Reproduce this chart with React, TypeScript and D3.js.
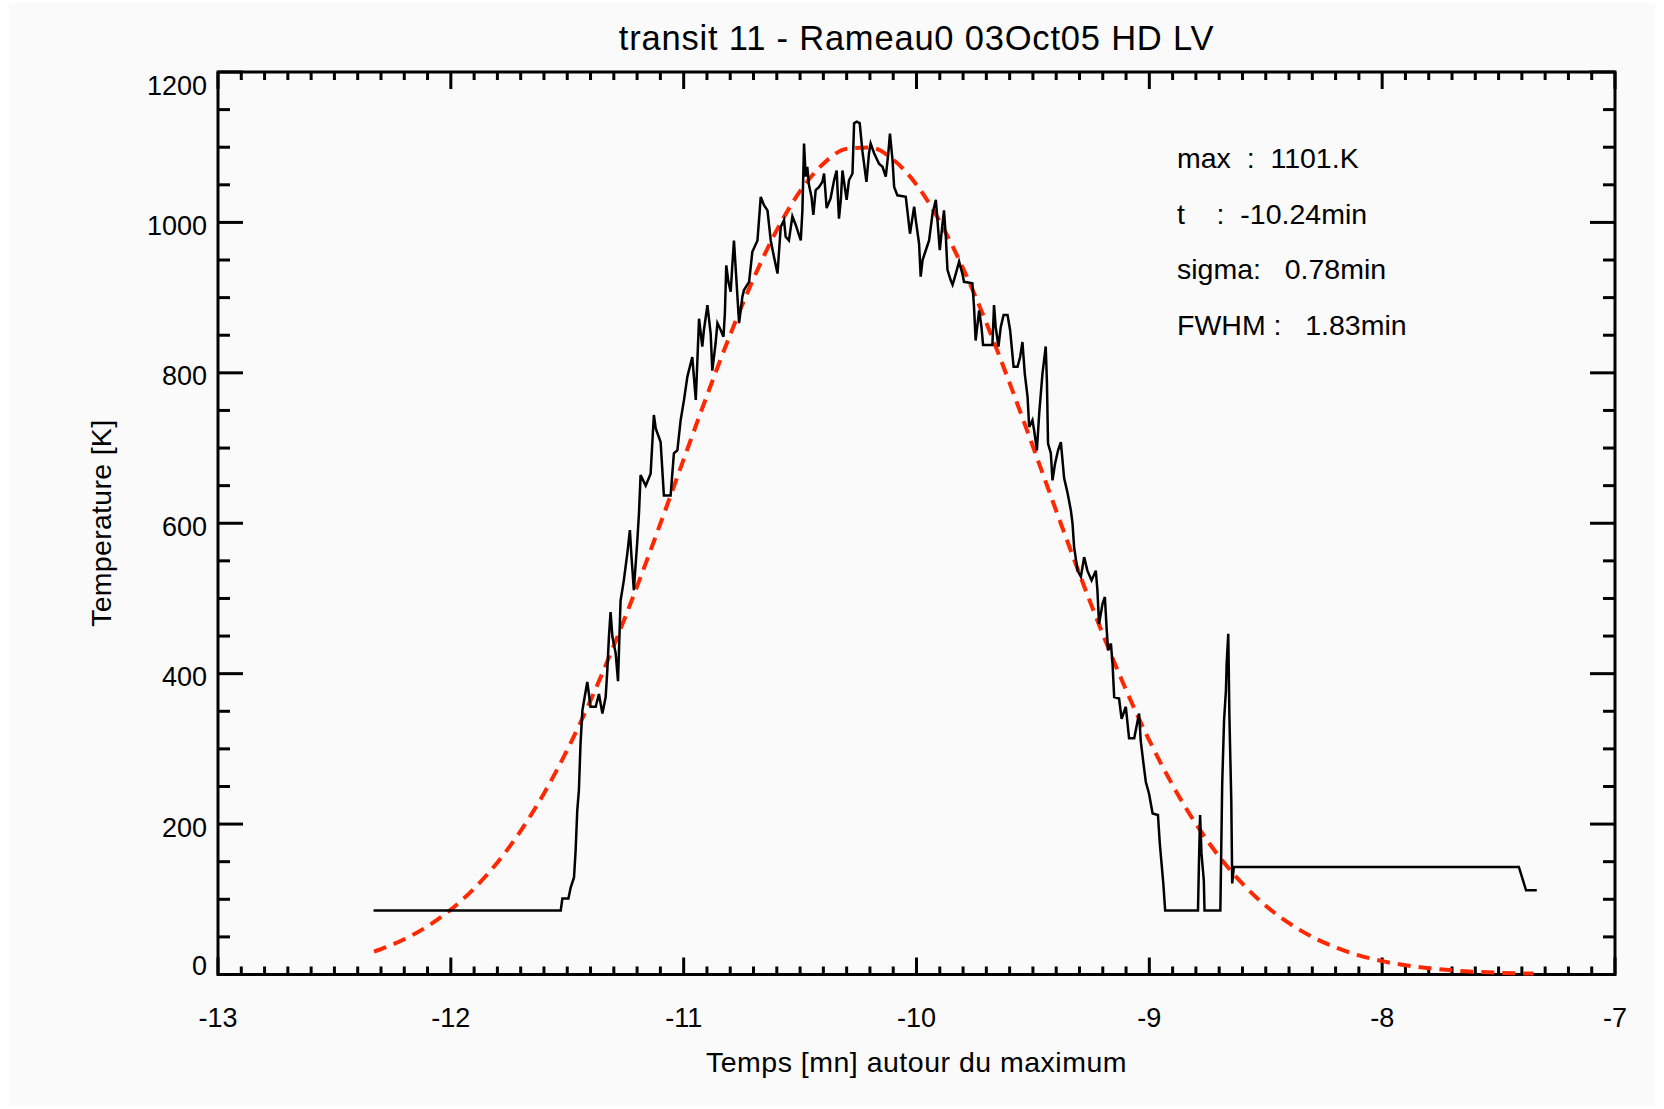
import React from 'react';
import * as d3 from 'd3';

// measured temperature (black) - time in minutes around the maximum
const timeMin = [
  -12.332, -11.528, -11.521, -11.495, -11.485, -11.471, -11.464, -11.457, -11.45, -11.443,
  -11.435, -11.428, -11.414, -11.407, -11.4, -11.378, -11.364, -11.349, -11.335, -11.328,
  -11.321, -11.314, -11.306, -11.292, -11.282, -11.271, -11.257, -11.242, -11.231, -11.225,
  -11.214, -11.199, -11.192, -11.185, -11.163, -11.142, -11.134, -11.128, -11.12, -11.099,
  -11.085, -11.056, -11.042, -11.027, -11.013, -10.999, -10.984, -10.963, -10.948, -10.941,
  -10.934, -10.92, -10.913, -10.898, -10.884, -10.877, -10.863, -10.855, -10.841, -10.829,
  -10.823, -10.817, -10.808, -10.798, -10.791, -10.784, -10.777, -10.769, -10.762, -10.755,
  -10.748, -10.741, -10.719, -10.705, -10.683, -10.669, -10.655, -10.64, -10.626, -10.612,
  -10.597, -10.583, -10.569, -10.562, -10.548, -10.533, -10.519, -10.497, -10.49, -10.483,
  -10.476, -10.469, -10.462, -10.451, -10.443, -10.433, -10.419, -10.404, -10.397, -10.386,
  -10.369, -10.354, -10.343, -10.333, -10.325, -10.318, -10.308, -10.3, -10.29, -10.275,
  -10.268, -10.257, -10.244, -10.232, -10.215, -10.204, -10.197, -10.182, -10.161, -10.146,
  -10.132, -10.121, -10.114, -10.103, -10.096, -10.082, -10.046, -10.028, -10.017, -10.01,
  -10.003, -9.989, -9.982, -9.974, -9.96, -9.946, -9.931, -9.917, -9.91, -9.9,
  -9.891, -9.882, -9.874, -9.867, -9.853, -9.845, -9.831, -9.817, -9.803, -9.796,
  -9.76, -9.753, -9.746, -9.731, -9.721, -9.714, -9.674, -9.667, -9.66, -9.648,
  -9.638, -9.626, -9.609, -9.598, -9.583, -9.566, -9.555, -9.545, -9.535, -9.523,
  -9.516, -9.502, -9.495, -9.483, -9.473, -9.459, -9.452, -9.445, -9.44, -9.435,
  -9.423, -9.416, -9.405, -9.392, -9.38, -9.366, -9.351, -9.337, -9.33, -9.323,
  -9.308, -9.294, -9.28, -9.266, -9.248, -9.23, -9.223, -9.216, -9.201, -9.191,
  -9.183, -9.177, -9.165, -9.158, -9.151, -9.13, -9.119, -9.101, -9.087, -9.065,
  -9.044, -9.037, -9.025, -9.015, -9.001, -8.986, -8.963, -8.955, -8.94, -8.932,
  -8.791, -8.787, -8.782, -8.776, -8.766, -8.763, -8.695, -8.691, -8.687, -8.679,
  -8.671, -8.668, -8.661, -8.656, -8.648, -8.644, -8.637, -7.413, -7.382, -7.336,
];
const tempK = [
  85, 85, 101, 101, 116, 129, 165, 218, 245, 307,
  351, 364, 389, 373, 356, 356, 373, 347, 369, 404,
  449, 482, 449, 427, 390, 497, 524, 560, 591, 560,
  511, 577, 613, 664, 650, 666, 710, 744, 726, 708,
  637, 637, 693, 697, 737, 763, 795, 821, 764, 817,
  872, 835, 857, 890, 852, 803, 839, 866, 857, 848,
  879, 943, 921, 908, 943, 976, 941, 901, 866, 883,
  901, 910, 921, 961, 976, 1034, 1023, 1016, 976, 954,
  932, 994, 1003, 981, 976, 1008, 997, 976, 1016, 1105,
  1061, 1074, 1050, 1034, 1010, 1043, 1047, 1054, 1065, 1019,
  1032, 1056, 1069, 1005, 1030, 1069, 1047, 1030, 1056, 1065,
  1132, 1134, 1132, 1094, 1054, 1092, 1105, 1092, 1078, 1074,
  1061, 1092, 1118, 1083, 1047, 1036, 1034, 985, 1007, 1021,
  1003, 972, 928, 950, 963, 976, 1012, 1030, 1003, 963,
  990, 1016, 981, 937, 923, 917, 932, 948, 932, 921,
  919, 888, 843, 883, 861, 837, 837, 890, 861, 835,
  861, 877, 877, 857, 808, 808, 821, 841, 799, 768,
  728, 737, 724, 697, 746, 799, 817, 835, 790, 706,
  693, 657, 679, 697, 708, 660, 640, 617, 600, 568,
  537, 529, 555, 537, 524, 537, 511, 466, 493, 502,
  458, 431, 440, 413, 369, 367, 340, 356, 314, 314,
  347, 311, 280, 256, 240, 214, 212, 174, 121, 85,
  85, 147, 212, 161, 125, 85, 85, 169, 254, 338,
  378, 413, 453, 342, 231, 121, 143, 143, 112, 112,
];

// gaussian fit (red dashed) read at 0.1 min steps
const fitTime = [
  -12.33, -12.2, -12.1, -12.0, -11.9, -11.8, -11.7, -11.6, -11.5, -11.4,
  -11.3, -11.2, -11.1, -11.0, -10.9, -10.8, -10.7, -10.6, -10.5, -10.4,
  -10.3, -10.2, -10.1, -10.0, -9.9, -9.8, -9.7, -9.6, -9.5, -9.4,
  -9.3, -9.2, -9.1, -9.0, -8.9, -8.8, -8.7, -8.6, -8.5, -8.4,
  -8.3, -8.2, -8.1, -8.0, -7.9, -7.8, -7.7, -7.6, -7.5, -7.4, -7.35,
];
const fitTemp = [
  30.4, 46.8, 64.1, 86.3, 114.3, 149.0, 191.0, 240.8, 298.6, 364.4,
  437.3, 516.2, 599.5, 684.9, 769.7, 850.9, 925.3, 989.8, 1041.5, 1078.1,
  1097.8, 1099.6, 1083.4, 1050.1, 1001.2, 939.0, 866.4, 786.3, 702.0, 616.5,
  532.6, 452.6, 378.4, 311.2, 251.7, 200.3, 156.8, 120.7, 91.4, 68.2,
  49.9, 36.0, 25.5, 17.8, 12.2, 8.3, 5.5, 3.6, 2.3, 1.5, 1.2,
];

const xTicks = [-13, -12, -11, -10, -9, -8, -7];
const yTicks = [0, 200, 400, 600, 800, 1000, 1200];
const title = 'transit 11 - Rameau0 03Oct05 HD LV';
const xTitle = 'Temps [mn] autour du maximum';
const yTitle = 'Temperature [K]';
const fitNotes = ['max  :  1101.K', 't    :  -10.24min', 'sigma:   0.78min', 'FWHM :   1.83min'];

const W = 1664;
const H = 1109;
const FONT = "'Liberation Sans', Arial, Helvetica, sans-serif";

export default function App() {
  const left = 218, right = 1615, top = 72, bottom = 974.5;
  const x = d3.scaleLinear().domain([-13, -7]).range([left, right]);
  const y = d3.scaleLinear().domain([0, 1200]).range([bottom, top]);

  const dataLine = d3
    .line<number>()
    .x((_, i) => x(timeMin[i]))
    .y((d) => y(d))(tempK) as string;

  const fitLine = d3
    .line<number>()
    .x((_, i) => x(fitTime[i]))
    .y((d) => y(d))
    .curve(d3.curveMonotoneX)(fitTemp) as string;

  const xMinor = d3.range(0, 61).filter((i) => i % 10 !== 0).map((i) => -13 + i / 10);
  const yMinor = d3.range(0, 25).filter((i) => i % 4 !== 0).map((i) => i * 50);

  return (
    <svg
      width={W}
      height={H}
      style={{ position: 'absolute', left: 0, top: 0, fontFamily: FONT }}
    >
      <rect x={0} y={0} width={W} height={H} fill="#ffffff" />
      <rect x={9} y={3} width={1646} height={1103} fill="#fafafa" />

      <text x={(left + right) / 2} y={50} fontSize={34.5} letterSpacing={0.8} textAnchor="middle">
        {title}
      </text>

      {/* ticks */}
      <g stroke="#000" strokeWidth={3}>
        {xTicks.map((t) => (
          <g key={'xt' + t}>
            <line x1={x(t)} x2={x(t)} y1={bottom} y2={bottom - 17} />
            <line x1={x(t)} x2={x(t)} y1={top} y2={top + 17} />
          </g>
        ))}
        {xMinor.map((t, i) => (
          <g key={'xm' + i}>
            <line x1={x(t)} x2={x(t)} y1={bottom} y2={bottom - 8} />
            <line x1={x(t)} x2={x(t)} y1={top} y2={top + 8} />
          </g>
        ))}
        {yTicks.map((v) => (
          <g key={'yt' + v}>
            <line x1={left} x2={left + 25} y1={y(v)} y2={y(v)} />
            <line x1={right} x2={right - 25} y1={y(v)} y2={y(v)} />
          </g>
        ))}
        {yMinor.map((v) => (
          <g key={'ym' + v}>
            <line x1={left} x2={left + 12} y1={y(v)} y2={y(v)} />
            <line x1={right} x2={right - 12} y1={y(v)} y2={y(v)} />
          </g>
        ))}
      </g>
      <rect
        x={left}
        y={top}
        width={right - left}
        height={bottom - top}
        fill="none"
        stroke="#000"
        strokeWidth={3}
      />

      {/* tick labels */}
      {xTicks.map((t) => (
        <text key={'xl' + t} x={x(t)} y={1027} fontSize={27} textAnchor="middle">
          {t}
        </text>
      ))}
      {yTicks.map((v) => (
        <text
          key={'yl' + v}
          x={207}
          y={Math.min(bottom, Math.max(top + 23, y(v) + 12.5))}
          fontSize={27}
          textAnchor="end"
        >
          {v}
        </text>
      ))}

      <text x={(left + right) / 2} y={1072} fontSize={28.5} letterSpacing={0.5} textAnchor="middle">
        {xTitle}
      </text>
      <text
        transform={`translate(111,${(top + bottom) / 2}) rotate(-90)`}
        fontSize={28.5}
        letterSpacing={0.3}
        textAnchor="middle"
      >
        {yTitle}
      </text>

      {/* data */}
      <path d={fitLine} fill="none" stroke="#ff2800" strokeWidth={4} strokeDasharray="13,8" />
      <path d={dataLine} fill="none" stroke="#000" strokeWidth={2.5} strokeLinejoin="miter" />

      {fitNotes.map((s, i) => (
        <text key={s} x={1177} y={168 + i * 55.5} fontSize={28.5} style={{ whiteSpace: 'pre' }}>
          {s}
        </text>
      ))}
    </svg>
  );
}
